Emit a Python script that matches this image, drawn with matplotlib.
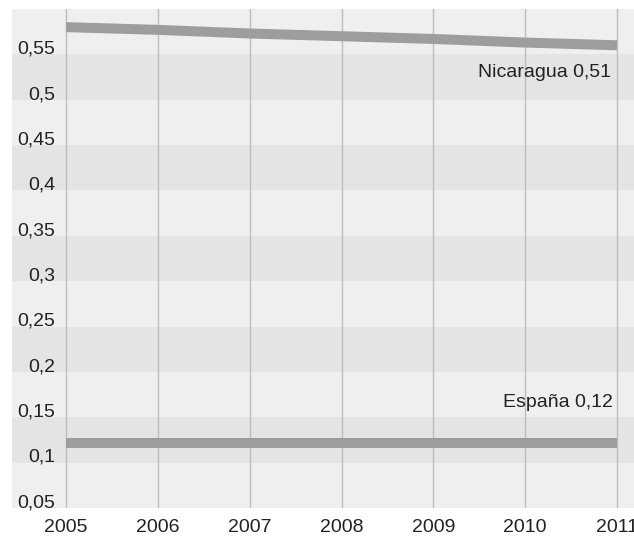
import matplotlib.pyplot as plt

plt.rcParams["font.family"] = ["Liberation Sans", "DejaVu Sans"]

# data
years = [2005, 2006, 2007, 2008, 2009, 2010, 2011]
nicaragua = [0.580, 0.577, 0.573, 0.570, 0.567, 0.563, 0.560]
espana = [0.122, 0.122, 0.122, 0.122, 0.122, 0.122, 0.122]
y_ticks = [0.05, 0.1, 0.15, 0.2, 0.25, 0.3, 0.35, 0.4, 0.45, 0.5, 0.55]
y_labels = ["0,05", "0,1", "0,15", "0,2", "0,25", "0,3", "0,35", "0,4", "0,45", "0,5", "0,55"]
labels = ["Nicaragua 0,51", "España 0,12"]

W, H = 634, 541
fig = plt.figure(figsize=(W / 100, H / 100), dpi=100)
ax = fig.add_axes([12 / W, 33 / H, (W - 12) / W, 499 / H])

ax.set_xlim(2004.41, 2011.185)
ax.set_ylim(0.05, 0.6)

# alternating bands
ax.set_facecolor("#efefef")
for i, t in enumerate(y_ticks):
    if i % 2 == 1:
        ax.axhspan(t, t + 0.05, color="#e3e4e3", zorder=0, lw=0)

for yr in years:
    ax.axvline(yr, color="#bdbdbd", lw=1, zorder=1)

ax.plot(years, nicaragua, color="#9d9d9f", lw=7.2, solid_capstyle="butt", zorder=3)
ax.plot(years, espana, color="#9d9d9f", lw=7.2, solid_capstyle="butt", zorder=3)

# y labels drawn inside the plot
for t, lab in zip(y_ticks, y_labels):
    ax.text(43 / (W - 12), t + 0.0008, lab, transform=ax.get_yaxis_transform(),
            ha="right", va="baseline", fontsize=14, color="#222222", zorder=4)

ax.text(2010.93, 0.5295, labels[0], ha="right", va="center", fontsize=14, color="#222222", zorder=4)
ax.text(2010.95, 0.1665, labels[1], ha="right", va="center", fontsize=14, color="#222222", zorder=4)

ax.set_xticks(years)
ax.set_xticklabels([str(y) for y in years], fontsize=14, color="#222222")
ax.set_yticks([])
ax.tick_params(axis="x", length=0, pad=8)
for s in ax.spines.values():
    s.set_visible(False)

plt.savefig("out.png", dpi=100)
